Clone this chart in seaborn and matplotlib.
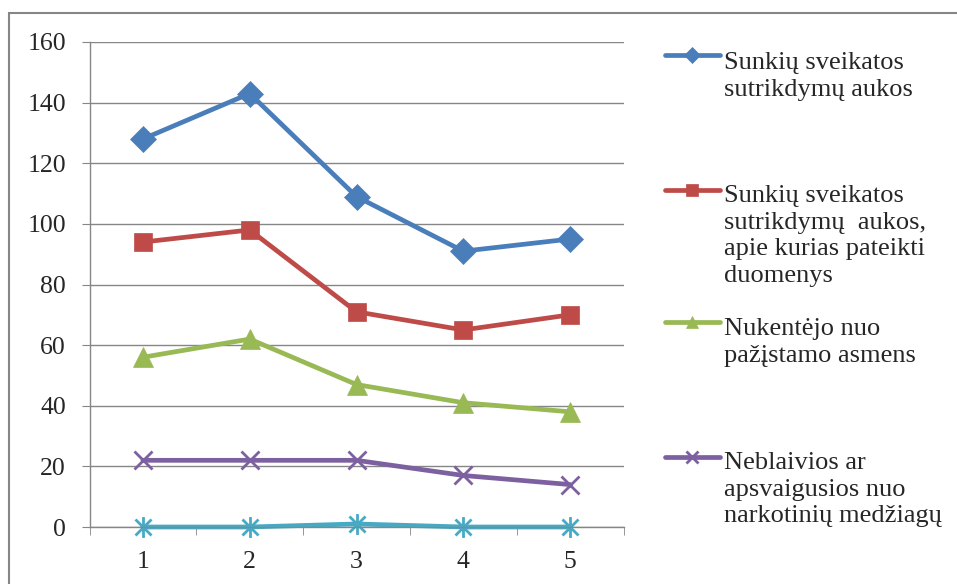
import pandas as pd
import matplotlib.pyplot as plt
import seaborn as sns
from matplotlib.patches import Rectangle
from matplotlib.path import Path

# data
years = [1, 2, 3, 4, 5]
series_names = ['Sunkių sveikatos\nsutrikdymų aukos',
                'Sunkių sveikatos\nsutrikdymų  aukos,\napie kurias pateikti\nduomenys',
                'Nukentėjo nuo\npažįstamo asmens',
                'Neblaivios ar\napsvaigusios nuo\nnarkotinių medžiagų',
                'Kitos']
sunkiu = [128, 143, 109, 91, 95]
sunkiu_duomenys = [94, 98, 71, 65, 70]
pazistamo = [56, 62, 47, 41, 38]
neblaivios = [22, 22, 22, 17, 14]
kitos = [0, 0, 1, 0, 0]
colors = ['#4A7EBB', '#BE4B48', '#98B954', '#7D60A0', '#46AAC5']

# excel "star" marker: an x with a vertical bar through it
star = Path([(-1, -1), (1, 1), (-1, 1), (1, -1), (0, -1.3), (0, 1.3)],
            [Path.MOVETO, Path.LINETO, Path.MOVETO, Path.LINETO, Path.MOVETO, Path.LINETO])
markers = ['D', 's', '^', 'x', star]
msizes = [13, 13, 14, 13, 15]

values = [sunkiu, sunkiu_duomenys, pazistamo, neblaivios, kitos]
rows = []
for name, vals in zip(series_names, values):
    for x, v in zip(years, vals):
        rows.append({'x': x, 'y': v, 'serija': name})
df = pd.DataFrame(rows)

sns.set_style('white')
plt.rcParams['font.family'] = ['Liberation Serif', 'DejaVu Serif']

fig = plt.figure(figsize=(9.57, 5.84), dpi=100)
ax = fig.add_axes([89.5 / 957, 57 / 584, 534 / 957, 485 / 584])

sns.lineplot(data=df, x='x', y='y', hue='serija', palette=colors,
             linewidth=3.4, legend=False, ax=ax)

# spreadsheet-style markers (filled and line-art mixed, so set them afterwards)
for i, (line, c, m, ms) in enumerate(zip(ax.lines, colors, markers, msizes)):
    line.set_marker(m)
    line.set_markersize(ms)
    line.set_markeredgecolor(c)
    line.set_markerfacecolor(c)
    line.set_markeredgewidth(2 if i >= 3 else 0.5)
    line.set_clip_on(False)

ax.set_xlim(0.5, 5.5)
ax.set_ylim(0, 160)
ax.set_yticks(range(0, 161, 20))
ax.set_xticks(years)
ax.set_xticks([0.5, 1.5, 2.5, 3.5, 4.5, 5.5], minor=True)
ax.grid(axis='y', color='#868686', linewidth=1)
ax.set_axisbelow(True)
ax.set_xlabel('')
ax.set_ylabel('')
for s in ['top', 'right']:
    ax.spines[s].set_visible(False)
for s in ['left', 'bottom']:
    ax.spines[s].set_color('#868686')
    ax.spines[s].set_linewidth(1)
ax.tick_params(axis='y', which='major', length=6, color='#868686', labelsize=18.5, pad=11, left=True)
ax.tick_params(axis='x', which='major', length=0, labelsize=18.5, pad=17)
ax.tick_params(axis='x', which='minor', length=6, color='#868686', bottom=True)

# legend: one slot per series, handle next to the first text line
handle_y = [58, 192, 325, 459]
text_top = [52, 185, 318, 452]
for line, name, hy, ty in zip(ax.lines[:4], series_names[:4], handle_y, text_top):
    leg = fig.legend(handles=[line], labels=[''], loc='center left',
                     bbox_to_anchor=(665 / 957, 1 - hy / 584), frameon=False,
                     fontsize=18.5, borderpad=0, handlelength=55 / 25.7,
                     handletextpad=0, borderaxespad=0)
    for h in leg.legend_handles:
        h.set_markersize(line.get_markersize() * 0.62)
    fig.text(724 / 957, 1 - ty / 584, name, fontsize=19, va='top',
             ha='left', linespacing=1.27)

fig.patches.append(Rectangle((9 / 957, -0.1), 1.2, 1 - 13 / 584 + 0.1,
                             transform=fig.transFigure, fill=False,
                             edgecolor='#868686', linewidth=1.5))

plt.savefig('out.png', dpi=100)
